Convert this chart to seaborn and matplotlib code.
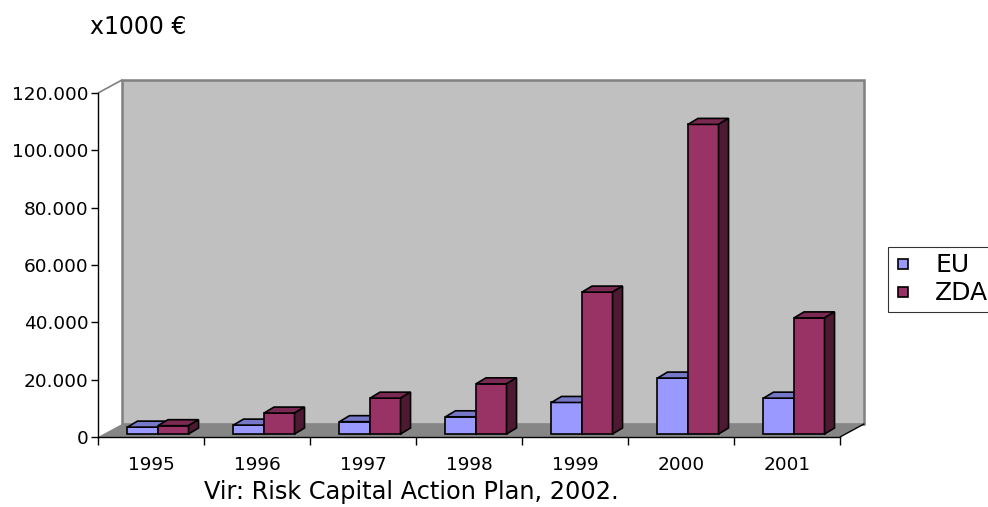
import numpy as np
import pandas as pd
import matplotlib
matplotlib.use("Agg")
import matplotlib.pyplot as plt
import seaborn as sns
from matplotlib.patches import Polygon
from matplotlib.lines import Line2D
from matplotlib.transforms import ScaledTranslation
from matplotlib.ticker import FuncFormatter

# ---- data (thousand EUR of risk capital) ----
years = ["1995", "1996", "1997", "1998", "1999", "2000", "2001"]
eu_values = [2400, 3100, 4300, 6000, 11000, 19500, 12500]
zda_values = [2900, 7300, 12500, 17500, 49500, 108000, 40500]
regions = ["EU", "ZDA"]
y_ticks = [0, 20000, 40000, 60000, 80000, 100000, 120000]

df = pd.DataFrame({
    "leto": years * 2,
    "vrednost": eu_values + zda_values,
    "regija": [regions[0]] * len(years) + [regions[1]] * len(years),
})

# ---- colours ----
FRONT = {"EU": "#9999FF", "ZDA": "#993366"}
TOP = {"EU": "#7777C8", "ZDA": "#7A2952"}
SIDE = {"EU": "#5C5C99", "ZDA": "#4D1933"}
WALL = "#C0C0C0"
WALL_EDGE = "#808080"
FLOOR = "#868686"

sns.set_style("white")
plt.rcParams["font.family"] = ["DejaVu Sans"]
plt.rcParams["text.color"] = "black"

W, H, DPI = 988, 507, 100
fig = plt.figure(figsize=(W / DPI, H / DPI), dpi=DPI)

# front frame of the plot area in pixels (from the top-left corner)
L, R, B, T = 98, 840, 437, 93
ax = fig.add_axes([L / W, (H - B) / H, (R - L) / W, (B - T) / H])
ax.patch.set_visible(False)

# depth of the 3-D box (pixels), back wall offset
DX, DY = 24, 13


def fp(x, y):
    """pixel position (top-left origin) -> figure fraction"""
    return (x / W, 1 - y / H)


ftr = fig.transFigure
# back wall
wall = Polygon([fp(L + DX, T - DY), fp(R + DX, T - DY), fp(R + DX, B - DY), fp(L + DX, B - DY)],
               closed=True, facecolor=WALL, edgecolor=WALL_EDGE, linewidth=1.8,
               transform=ftr, clip_on=False, zorder=0.5)
ax.add_patch(wall)
# floor
floor = Polygon([fp(L, B), fp(R, B), fp(R + DX, B - DY), fp(L + DX, B - DY)],
                closed=True, facecolor=FLOOR, edgecolor="none",
                transform=ftr, clip_on=False, zorder=0.6)
ax.add_patch(floor)
# side wall top edge and floor right edge
ax.add_line(Line2D([fp(L, T)[0], fp(L + DX, T - DY)[0]], [fp(L, T)[1], fp(L + DX, T - DY)[1]],
                   color=WALL_EDGE, linewidth=1.2, transform=ftr, clip_on=False, zorder=0.7))
ax.add_line(Line2D([fp(R, B)[0], fp(R + DX, B - DY)[0]], [fp(R, B)[1], fp(R + DX, B - DY)[1]],
                   color="black", linewidth=1.0, transform=ftr, clip_on=False, zorder=0.7))

# ---- bars (front faces) ----
sns.barplot(data=df, x="leto", y="vrednost", hue="regija", hue_order=regions,
            palette=[FRONT[r] for r in regions], width=0.576, saturation=1,
            errorbar=None, edgecolor="black", linewidth=1.2, legend=False, ax=ax)

ax.set_xlim(-0.5, len(years) - 0.5)
ax.set_ylim(y_ticks[0], y_ticks[-1])

# bars stand a little behind the front edge of the floor
bar_shift = ax.transData + ScaledTranslation(7 / DPI, 3 / DPI, fig.dpi_scale_trans)
px_per_x = ax.bbox.width / (len(years))
px_per_y = ax.bbox.height / (y_ticks[-1] - y_ticks[0])
ddx = 10 / px_per_x   # bar depth in data units
ddy = 6 / px_per_y

for i, (region, container) in enumerate(zip(regions, ax.containers)):
    z = 3 + i
    for bar in container:
        bar.set_transform(bar_shift)
        bar.set_zorder(z)
        x0, w, h = bar.get_x(), bar.get_width(), bar.get_height()
        x1 = x0 + w
        top = Polygon([(x0, h), (x1, h), (x1 + ddx, h + ddy), (x0 + ddx, h + ddy)],
                      closed=True, facecolor=TOP[region], edgecolor="black",
                      linewidth=1.2, transform=bar_shift, zorder=z, clip_on=False)
        side = Polygon([(x1, 0), (x1 + ddx, ddy), (x1 + ddx, h + ddy), (x1, h)],
                       closed=True, facecolor=SIDE[region], edgecolor="black",
                       linewidth=1.2, transform=bar_shift, zorder=z, clip_on=False)
        ax.add_patch(top)
        ax.add_patch(side)

# ---- axes ----
for s in ["top", "right"]:
    ax.spines[s].set_visible(False)
for s in ["left", "bottom"]:
    ax.spines[s].set_color("black")
    ax.spines[s].set_linewidth(1.0)
    ax.spines[s].set_zorder(2)

ax.set_yticks(y_ticks)
ax.yaxis.set_major_formatter(FuncFormatter(lambda v, p: f"{int(v):,}".replace(",", ".")))
ax.tick_params(axis="y", left=True, length=5, width=1, color="black",
               labelsize=13.3, labelcolor="black", pad=2)

ax.set_xticks(np.arange(-0.5, len(years), 1.0))
ax.set_xticklabels([])
ax.set_xticks(np.arange(len(years)), minor=True)
ax.set_xticklabels(years, minor=True)
ax.tick_params(axis="x", which="major", bottom=True, length=6, width=1, color="black")
ax.tick_params(axis="x", which="minor", bottom=True, length=0, labelsize=13.3,
               labelcolor="black", pad=14)
ax.set_xlabel("")
ax.set_ylabel("")

# ---- texts ----
fig.text(90 / W, 1 - 27 / H, "x1000 €", fontsize=17, ha="left", va="center")
fig.text(204 / W, 1 - 492 / H, "Vir: Risk Capital Action Plan, 2002.", fontsize=17.3,
         ha="left", va="center")

# ---- legend ----
handles = [Line2D([], [], marker="s", linestyle="none", markersize=6.5,
                  markerfacecolor=FRONT[r], markeredgecolor="black", markeredgewidth=1.2)
           for r in regions]
leg = fig.legend(handles, regions, loc="upper left", bbox_to_anchor=(888 / W, 1 - 247 / H),
                 fontsize=18, frameon=True, fancybox=False, borderaxespad=0,
                 borderpad=0.25, handlelength=0.7, handletextpad=0.93, labelspacing=0.17)
leg.get_frame().set_edgecolor("black")
leg.get_frame().set_linewidth(0.8)

fig.savefig("out.png", dpi=DPI)
